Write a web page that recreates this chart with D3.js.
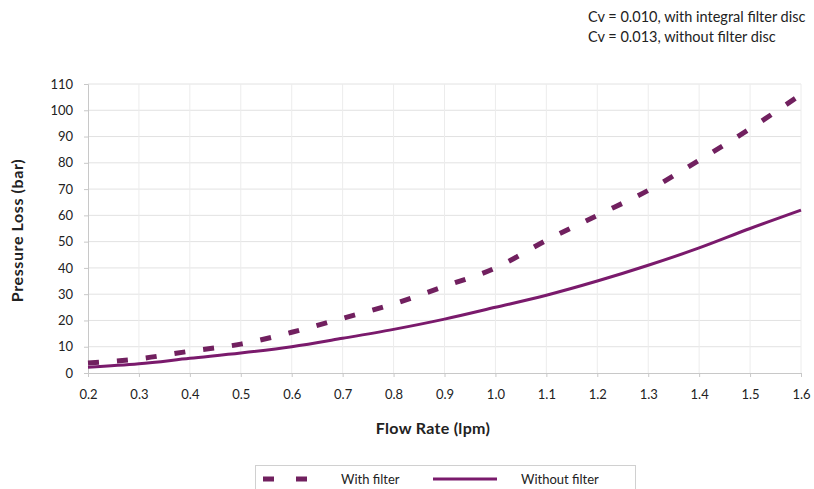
<!DOCTYPE html>
<html>
<head>
<meta charset="utf-8">
<script src="https://cdn.jsdelivr.net/npm/d3@7"></script>
<style>
  body { margin: 0; background: #fff; }
  text { font-family: "Lato", "Open Sans", sans-serif; fill: #222; }
</style>
</head>
<body>
<svg id="chart" width="814" height="489"></svg>
<script>
var flowRate = [0.2, 0.3, 0.4, 0.5, 0.6, 0.7, 0.8, 0.9, 1.0, 1.1, 1.2, 1.3, 1.4, 1.5, 1.6];
var withFilter = [3.8, 5.4, 8.3, 11, 15.5, 20.8, 26.3, 33, 40, 50.5, 60, 69.5, 81, 93, 106];
var withoutFilter = [2.2, 3.5, 5.6, 7.6, 10, 13.2, 16.6, 20.5, 25, 29.6, 35, 41, 47.6, 55, 62];
var xTicks = ["0.2", "0.3", "0.4", "0.5", "0.6", "0.7", "0.8", "0.9", "1.0", "1.1", "1.2", "1.3", "1.4", "1.5", "1.6"];
var yTicks = [0, 10, 20, 30, 40, 50, 60, 70, 80, 90, 100, 110];
var notes = ["Cv = 0.010, with integral filter disc", "Cv = 0.013, without filter disc"];

var svg = d3.select("#chart");
var margin = { top: 84, right: 13, bottom: 116, left: 88 },
  width = 814 - margin.left - margin.right,
  height = 489 - margin.top - margin.bottom;

var canvas = svg.append("g")
  .attr("transform", "translate(" + margin.left + "," + margin.top + ")");

var xScale = d3.scaleLinear().domain([0.2, 1.6]).range([0, width]);
var yScale = d3.scaleLinear().domain([0, 110]).range([height, 0]);

// grid
canvas.append("g").selectAll("line.h")
  .data(yTicks.slice(1))
  .enter().append("line")
  .attr("x1", 0).attr("x2", width)
  .attr("y1", function(d) { return yScale(d); })
  .attr("y2", function(d) { return yScale(d); })
  .style("stroke", "#e2e2e2").style("stroke-width", 1);

canvas.append("g").selectAll("line.v")
  .data(flowRate.slice(1))
  .enter().append("line")
  .attr("x1", function(d) { return xScale(d); })
  .attr("x2", function(d) { return xScale(d); })
  .attr("y1", 0).attr("y2", height)
  .style("stroke", "#ececec").style("stroke-width", 1);

var xAxis = d3.axisBottom(xScale)
  .tickValues(flowRate)
  .tickFormat(function(d, i) { return xTicks[i]; })
  .tickSize(4).tickPadding(13);

var yAxis = d3.axisLeft(yScale)
  .tickValues(yTicks)
  .tickSize(4).tickPadding(11);

var gx = canvas.append("g")
  .attr("transform", "translate(0," + height + ")")
  .call(xAxis);
var gy = canvas.append("g").call(yAxis);

[gx, gy].forEach(function(g) {
  g.select(".domain").style("stroke", "#c8c8c8");
  g.selectAll(".tick line").style("stroke", "#c8c8c8");
  g.selectAll(".tick text")
    .style("font-family", "Lato, sans-serif")
    .style("font-size", "13px")
    .style("fill", "#222");
});

var line = d3.line()
  .x(function(d, i) { return xScale(flowRate[i]); })
  .y(function(d) { return yScale(d); })
  .curve(d3.curveMonotoneX);

canvas.append("path")
  .datum(withoutFilter)
  .attr("d", line)
  .style("fill", "none")
  .style("stroke", "#7a1a6c")
  .style("stroke-width", 3);

canvas.append("path")
  .datum(withFilter)
  .attr("d", line)
  .style("fill", "none")
  .style("stroke", "#71205f")
  .style("stroke-width", 5)
  .style("stroke-dasharray", "11,18");

// axis titles
svg.append("text")
  .attr("transform", "translate(23," + (margin.top + height / 2 + 2) + ") rotate(-90)")
  .style("text-anchor", "middle")
  .style("font-size", "16px")
  .style("font-weight", "bold")
  .style("letter-spacing", "0.6px")
  .text("Pressure Loss (bar)");

svg.append("text")
  .attr("x", 433)
  .attr("y", 434)
  .style("text-anchor", "middle")
  .style("font-size", "16px")
  .style("font-weight", "bold")
  .style("letter-spacing", "0.3px")
  .text("Flow Rate (lpm)");

// notes
svg.selectAll("text.note")
  .data(notes)
  .enter().append("text")
  .attr("class", "note")
  .attr("x", 588)
  .attr("y", function(d, i) { return 22 + i * 20; })
  .style("font-size", "14.5px")
  .text(function(d) { return d; });

// legend
var legend = svg.append("g");
legend.append("rect")
  .attr("x", 255.5).attr("y", 465.5)
  .attr("width", 380).attr("height", 30)
  .style("fill", "#fff")
  .style("stroke", "#d0d0d0");

legend.append("line")
  .attr("x1", 263).attr("x2", 310)
  .attr("y1", 479).attr("y2", 479)
  .style("stroke", "#71205f")
  .style("stroke-width", 5)
  .style("stroke-dasharray", "11,22");

legend.append("text")
  .attr("x", 341).attr("y", 484)
  .style("font-size", "13px")
  .text("With filter");

legend.append("line")
  .attr("x1", 433).attr("x2", 497)
  .attr("y1", 479).attr("y2", 479)
  .style("stroke", "#7a1a6c")
  .style("stroke-width", 3);

legend.append("text")
  .attr("x", 521).attr("y", 484)
  .style("font-size", "13px")
  .text("Without filter");
</script>
</body>
</html>
